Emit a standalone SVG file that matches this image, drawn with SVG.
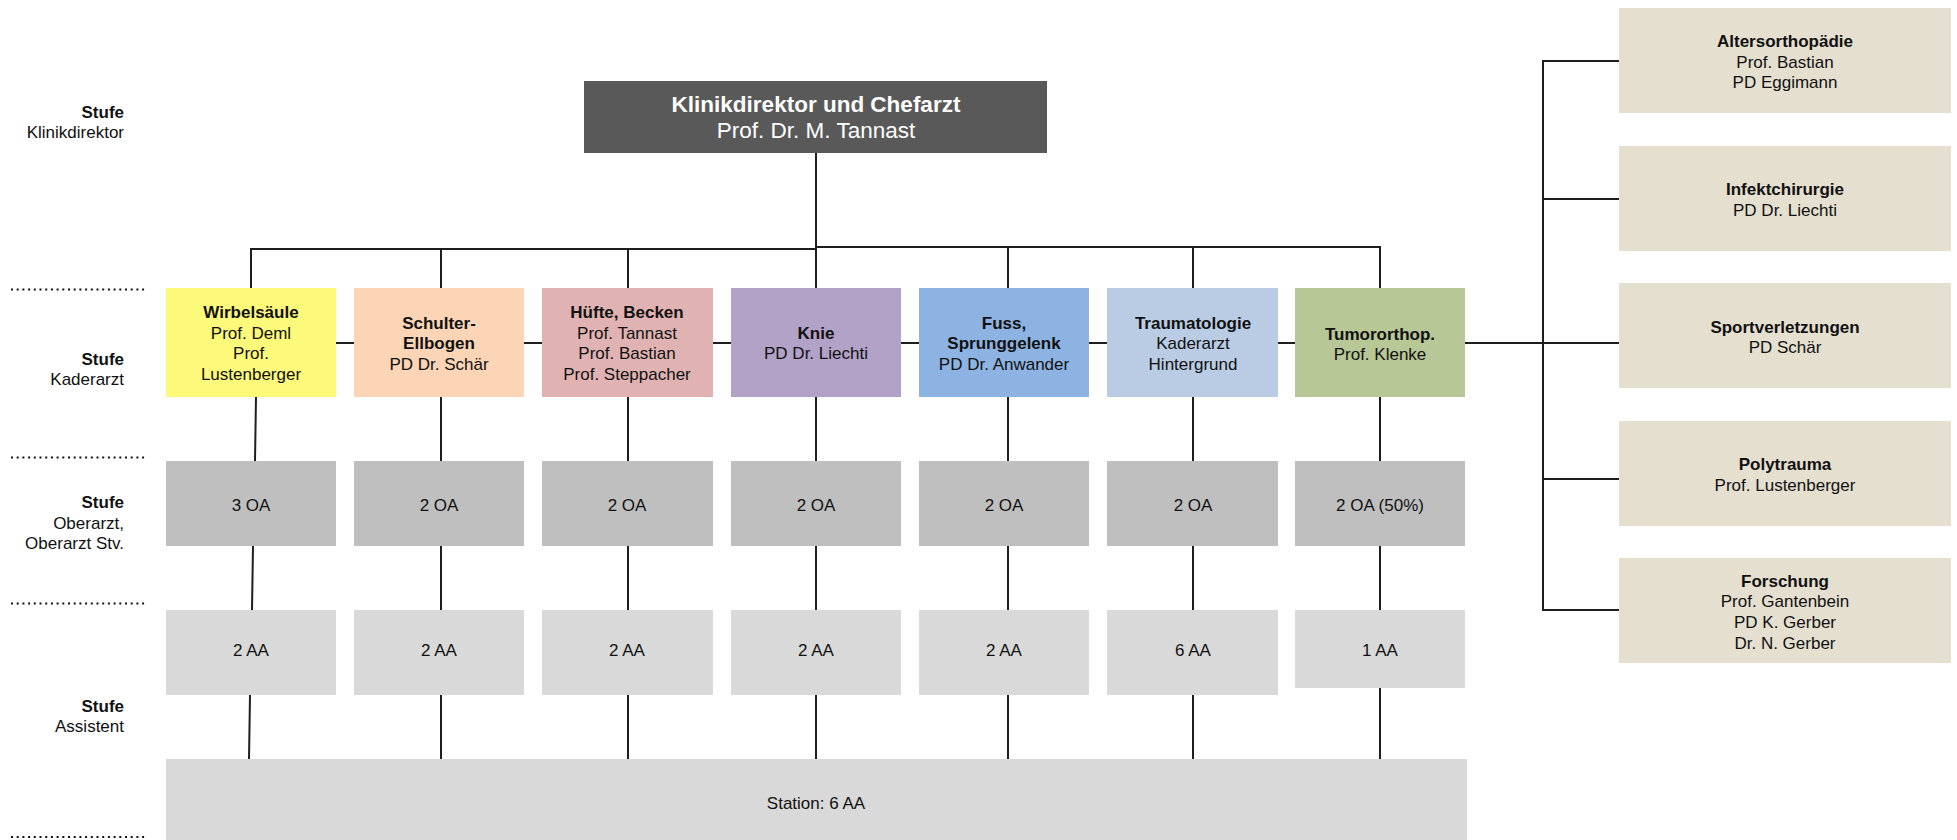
<svg xmlns="http://www.w3.org/2000/svg" width="1957" height="840" viewBox="0 0 1957 840">
<style>
text{font-family:"Liberation Sans",Arial,sans-serif;font-size:17px;fill:#111;text-anchor:middle}
.b{font-weight:bold}
.lvl{text-anchor:end}
.ttl{fill:#fff;font-size:22.5px}
.ln{fill:none;stroke:#1e1e1e;stroke-width:2}
.dot{stroke:#111;stroke-width:2.2;stroke-dasharray:2 3.7}
.oa{fill:#bfbfbf}
.aa{fill:#d9d9d9}
.rb{fill:#e4dfcf}
</style>
<rect width="1957" height="840" fill="#fff"/>
<g id="levels">
<line class="dot" x1="11" y1="289.5" x2="145" y2="289.5"/>
<line class="dot" x1="11" y1="457.5" x2="145" y2="457.5"/>
<line class="dot" x1="11" y1="603.5" x2="145" y2="603.5"/>
<line class="dot" x1="11" y1="837" x2="145" y2="837"/>
<text class="lvl b" x="124" y="118">Stufe</text>
<text class="lvl" x="124" y="138">Klinikdirektor</text>
<text class="lvl b" x="124" y="365">Stufe</text>
<text class="lvl" x="124" y="385">Kaderarzt</text>
<text class="lvl b" x="124" y="508">Stufe</text>
<text class="lvl" x="124" y="529">Oberarzt,</text>
<text class="lvl" x="124" y="549">Oberarzt Stv.</text>
<text class="lvl b" x="124" y="712">Stufe</text>
<text class="lvl" x="124" y="732">Assistent</text>
</g>
<g id="connectors">
<path class="ln" d="M816 153V248"/>
<path class="ln" d="M251 288V249H816"/>
<path class="ln" d="M816 247H1380V288"/>
<path class="ln" d="M441 249V288M628 249V288M816 248V288M1008 247V288M1193 247V288"/>
<path class="ln" d="M336 343H1619"/>
<path class="ln" d="M1619 61H1543V610H1619M1543 199H1619M1543 479H1619"/>
<path class="ln" d="M256 397L255 461M253 546L252 610M250 695L249 759"/>
<path class="ln" d="M441 397V461M441 546V610M441 695V759"/>
<path class="ln" d="M628 397V461M628 546V610M628 695V759"/>
<path class="ln" d="M816 397V461M816 546V610M816 695V759"/>
<path class="ln" d="M1008 397V461M1008 546V610M1008 695V759"/>
<path class="ln" d="M1193 397V461M1193 546V610M1193 695V759"/>
<path class="ln" d="M1380 397V461M1380 546V610M1380 688V759"/>
</g>
<g id="chef">
<rect x="584" y="81" width="463" height="72" fill="#595959"/>
<text class="ttl b" x="816" y="112">Klinikdirektor und Chefarzt</text>
<text class="ttl" x="816" y="138">Prof. Dr. M. Tannast</text>
</g>
<g id="wirbelsaeule">
<rect x="166" y="288" width="170" height="109" fill="#fdf97b"/>
<text class="b" x="251" y="318">Wirbelsäule</text>
<text x="251" y="339">Prof. Deml</text>
<text x="251" y="359">Prof.</text>
<text x="251" y="380">Lustenberger</text>
</g>
<g id="schulter">
<rect x="354" y="288" width="170" height="109" fill="#fbd5b5"/>
<text class="b" x="439" y="329">Schulter-</text>
<text class="b" x="439" y="349">Ellbogen</text>
<text x="439" y="370">PD Dr. Schär</text>
</g>
<g id="huefte">
<rect x="542" y="288" width="171" height="109" fill="#e0b3b2"/>
<text class="b" x="627" y="318">Hüfte, Becken</text>
<text x="627" y="339">Prof. Tannast</text>
<text x="627" y="359">Prof. Bastian</text>
<text x="627" y="380">Prof. Steppacher</text>
</g>
<g id="knie">
<rect x="731" y="288" width="170" height="109" fill="#b2a2c7"/>
<text class="b" x="816" y="339">Knie</text>
<text x="816" y="359">PD Dr. Liechti</text>
</g>
<g id="fuss">
<rect x="919" y="288" width="170" height="109" fill="#8db3e2"/>
<text class="b" x="1004" y="329">Fuss,</text>
<text class="b" x="1004" y="349">Sprunggelenk</text>
<text x="1004" y="370">PD Dr. Anwander</text>
</g>
<g id="trauma">
<rect x="1107" y="288" width="171" height="109" fill="#b9cce4"/>
<text class="b" x="1193" y="329">Traumatologie</text>
<text x="1193" y="349">Kaderarzt</text>
<text x="1193" y="370">Hintergrund</text>
</g>
<g id="tumor">
<rect x="1295" y="288" width="170" height="109" fill="#b7c796"/>
<text class="b" x="1380" y="340">Tumororthop.</text>
<text x="1380" y="360">Prof. Klenke</text>
</g>
<g id="oa1"><rect class="oa" x="166" y="461" width="170" height="85"/><text x="251" y="511">3 OA</text></g>
<g id="oa2"><rect class="oa" x="354" y="461" width="170" height="85"/><text x="439" y="511">2 OA</text></g>
<g id="oa3"><rect class="oa" x="542" y="461" width="171" height="85"/><text x="627" y="511">2 OA</text></g>
<g id="oa4"><rect class="oa" x="731" y="461" width="170" height="85"/><text x="816" y="511">2 OA</text></g>
<g id="oa5"><rect class="oa" x="919" y="461" width="170" height="85"/><text x="1004" y="511">2 OA</text></g>
<g id="oa6"><rect class="oa" x="1107" y="461" width="171" height="85"/><text x="1193" y="511">2 OA</text></g>
<g id="oa7"><rect class="oa" x="1295" y="461" width="170" height="85"/><text x="1380" y="511">2 OA (50%)</text></g>
<g id="aa1"><rect class="aa" x="166" y="610" width="170" height="85"/><text x="251" y="656">2 AA</text></g>
<g id="aa2"><rect class="aa" x="354" y="610" width="170" height="85"/><text x="439" y="656">2 AA</text></g>
<g id="aa3"><rect class="aa" x="542" y="610" width="171" height="85"/><text x="627" y="656">2 AA</text></g>
<g id="aa4"><rect class="aa" x="731" y="610" width="170" height="85"/><text x="816" y="656">2 AA</text></g>
<g id="aa5"><rect class="aa" x="919" y="610" width="170" height="85"/><text x="1004" y="656">2 AA</text></g>
<g id="aa6"><rect class="aa" x="1107" y="610" width="171" height="85"/><text x="1193" y="656">6 AA</text></g>
<g id="aa7"><rect class="aa" x="1295" y="610" width="170" height="78"/><text x="1380" y="656">1 AA</text></g>
<g id="station"><rect class="aa" x="166" y="759" width="1301" height="81"/><text x="816" y="809">Station: 6 AA</text></g>
<g id="altersortho">
<rect class="rb" x="1619" y="8" width="332" height="105"/>
<text class="b" x="1785" y="47">Altersorthopädie</text>
<text x="1785" y="68">Prof. Bastian</text>
<text x="1785" y="88">PD Eggimann</text>
</g>
<g id="infekt">
<rect class="rb" x="1619" y="146" width="332" height="105"/>
<text class="b" x="1785" y="195">Infektchirurgie</text>
<text x="1785" y="216">PD Dr. Liechti</text>
</g>
<g id="sport">
<rect class="rb" x="1619" y="283" width="332" height="105"/>
<text class="b" x="1785" y="333">Sportverletzungen</text>
<text x="1785" y="353">PD Schär</text>
</g>
<g id="polytrauma">
<rect class="rb" x="1619" y="421" width="332" height="105"/>
<text class="b" x="1785" y="470">Polytrauma</text>
<text x="1785" y="491">Prof. Lustenberger</text>
</g>
<g id="forschung">
<rect class="rb" x="1619" y="558" width="332" height="105"/>
<text class="b" x="1785" y="587">Forschung</text>
<text x="1785" y="607">Prof. Gantenbein</text>
<text x="1785" y="628">PD K. Gerber</text>
<text x="1785" y="649">Dr. N. Gerber</text>
</g>
</svg>
